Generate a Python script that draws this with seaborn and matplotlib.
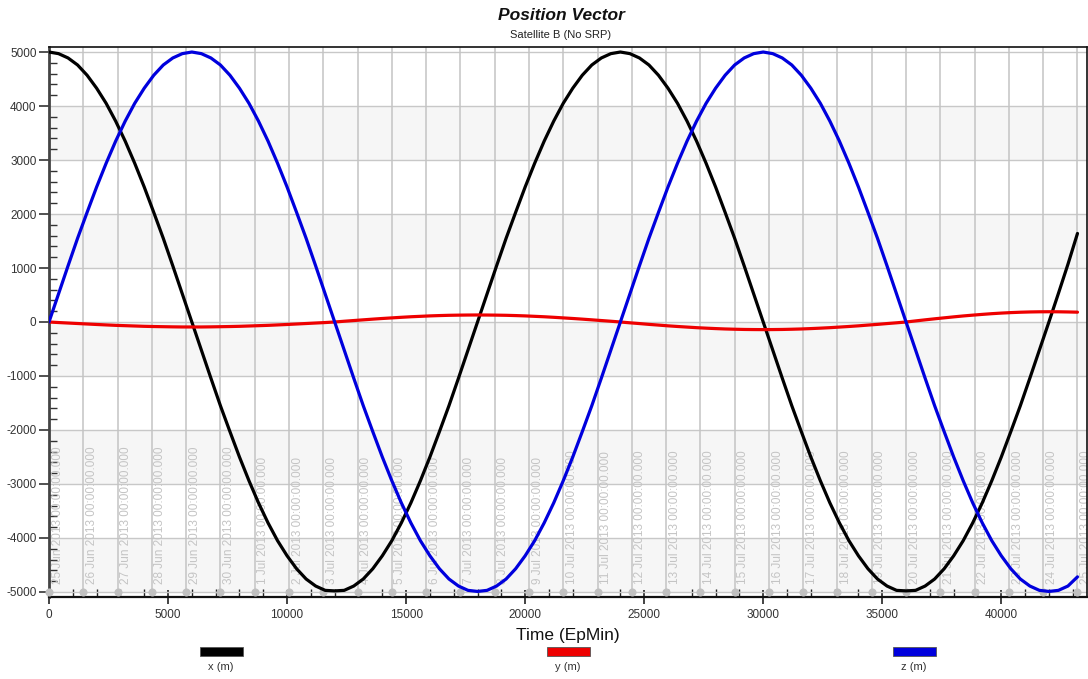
import matplotlib
matplotlib.use("Agg")
import matplotlib.pyplot as plt
from matplotlib.patches import Rectangle
import seaborn as sns
import pandas as pd

# ---------------- data ----------------
time_min = [400 * k for k in range(109)]  # epoch minutes, 0 .. 43200

x_m = [5000, 4970, 4890, 4760, 4570, 4330, 4050, 3720, 3350, 2940, 2500, 2030, 1550, 1040, 520, 0,
       -520, -1040, -1550, -2030, -2500, -2940, -3350, -3720, -4050, -4330, -4570, -4760, -4890, -4970, -4980,
       -4970, -4890, -4760, -4570, -4330, -4050, -3720, -3350, -2940, -2500, -2030, -1550, -1040, -520, 0,
       520, 1040, 1550, 2030, 2500, 2940, 3350, 3720, 4050, 4330, 4570, 4760, 4890, 4970, 5000,
       4970, 4890, 4760, 4570, 4330, 4050, 3720, 3350, 2940, 2500, 2030, 1550, 1040, 520, 0,
       -520, -1040, -1550, -2030, -2500, -2940, -3350, -3720, -4050, -4330, -4570, -4760, -4890, -4970, -4980,
       -4970, -4890, -4760, -4570, -4330, -4050, -3720, -3350, -2940, -2500, -2030, -1550, -1040, -520, 0,
       530, 1070, 1640]

y_m = [0, -10, -19, -28, -37, -46, -54, -62, -68, -74, -80, -84, -87, -90, -92, -92,
       -92, -90, -87, -84, -80, -74, -68, -62, -54, -46, -37, -28, -19, -10, 0,
       14, 27, 40, 53, 65, 76, 87, 97, 105, 113, 119, 124, 127, 129, 130,
       129, 127, 124, 119, 113, 105, 97, 87, 76, 65, 53, 40, 27, 14, 0,
       -15, -29, -44, -57, -71, -83, -94, -105, -114, -122, -129, -134, -138, -140, -141,
       -140, -138, -134, -129, -122, -114, -105, -94, -83, -71, -57, -44, -29, -15, 0,
       20, 40, 59, 77, 95, 112, 127, 141, 154, 165, 174, 181, 186, 189, 190,
       189, 186, 182]

z_m = [0, 520, 1040, 1550, 2030, 2500, 2940, 3350, 3720, 4050, 4330, 4570, 4760, 4890, 4970, 5000,
       4970, 4890, 4760, 4570, 4330, 4050, 3720, 3350, 2940, 2500, 2030, 1550, 1040, 520, 0,
       -520, -1040, -1550, -2030, -2500, -2940, -3350, -3720, -4050, -4330, -4570, -4760, -4890, -4970, -4990,
       -4970, -4890, -4760, -4570, -4330, -4050, -3720, -3350, -2940, -2500, -2030, -1550, -1040, -520, 0,
       520, 1040, 1550, 2030, 2500, 2940, 3350, 3720, 4050, 4330, 4570, 4760, 4890, 4970, 5000,
       4970, 4890, 4760, 4570, 4330, 4050, 3720, 3350, 2940, 2500, 2030, 1550, 1040, 520, 0,
       -520, -1040, -1550, -2030, -2500, -2940, -3350, -3720, -4050, -4330, -4570, -4760, -4890, -4970, -4990,
       -4970, -4890, -4720]

series_names = ["x (m)", "y (m)", "z (m)"]
series_colors = ["#000000", "#ee0000", "#0000dd"]

day_labels = ["25 Jun 2013", "26 Jun 2013", "27 Jun 2013", "28 Jun 2013", "29 Jun 2013",
              "30 Jun 2013", "1 Jul 2013", "2 Jul 2013", "3 Jul 2013", "4 Jul 2013",
              "5 Jul 2013", "6 Jul 2013", "7 Jul 2013", "8 Jul 2013", "9 Jul 2013",
              "10 Jul 2013", "11 Jul 2013", "12 Jul 2013", "13 Jul 2013", "14 Jul 2013",
              "15 Jul 2013", "16 Jul 2013", "17 Jul 2013", "18 Jul 2013", "19 Jul 2013",
              "20 Jul 2013", "21 Jul 2013", "22 Jul 2013", "23 Jul 2013", "24 Jul 2013",
              "25 Jul 2013"]
minutes_per_day = 1440

x_ticks = [0, 5000, 10000, 15000, 20000, 25000, 30000, 35000, 40000]
y_ticks = [5000, 4000, 3000, 2000, 1000, 0, -1000, -2000, -3000, -4000, -5000]

title = "Position Vector"
subtitle = "Satellite B (No SRP)"
x_label = "Time (EpMin)"

# ---------------- styling ----------------
sns.set_style("white")
plt.rcParams["font.family"] = ["Liberation Sans", "DejaVu Sans"]

df = pd.DataFrame({
    "t": time_min * 3,
    "value": x_m + y_m + z_m,
    "series": [series_names[0]] * len(x_m) + [series_names[1]] * len(y_m) + [series_names[2]] * len(z_m),
})

W, H = 1088, 679
fig = plt.figure(figsize=(W / 100, H / 100), dpi=100)
ax = fig.add_axes([49 / W, 1 - 597 / H, (1087 - 49) / W, 550 / H])

ax.set_xlim(0, 43600)
ax.set_ylim(-5093, 5093)

# alternating bands
for lo in [3000, 1000, -1000, -3000, -5000]:
    ax.axhspan(lo, lo + 1000, color="#f6f6f6", zorder=0, lw=0)

# horizontal grid
for yv in y_ticks:
    ax.axhline(yv, color="#c8c8c8", lw=1.0, zorder=1)

# day grid lines, labels, dots
day_pos = [i * minutes_per_day for i in range(len(day_labels))]
for pos, lab in zip(day_pos, day_labels):
    ax.axvline(pos, color="#c4c4c4", lw=1.1, zorder=1)
    ax.text(pos + 110, -4860, lab + " 00:00:00.000", rotation=90, ha="left", va="bottom",
            fontsize=8.5, color="#c4c4c4", zorder=2, clip_on=True)
ax.scatter(day_pos, [-5000] * len(day_pos), s=34, color="#c0c0c0", zorder=3,
           clip_on=False, linewidths=0)

sns.lineplot(data=df, x="t", y="value", hue="series", palette=series_colors,
             hue_order=series_names, linewidth=2.3, legend=False, ax=ax, zorder=4,
             estimator=None, sort=False)

# ticks
ax.set_xticks(x_ticks)
ax.set_xticklabels([str(v) for v in x_ticks])
ax.set_xticks(list(range(0, 43001, 1000)), minor=True)
ax.set_yticks(y_ticks)
ax.set_yticklabels([str(v) for v in y_ticks])
ax.set_yticks(list(range(-5000, 5001, 200)), minor=True)
ax.tick_params(axis="x", which="major", direction="inout", length=10, width=1.2,
               color="#222222", labelsize=8.5, labelcolor="#333333", pad=4, bottom=True)
ax.tick_params(axis="x", which="minor", direction="in", length=6, width=1.0,
               color="#222222", bottom=True)
ax.tick_params(axis="y", which="major", direction="out", length=7, width=1.2,
               color="#333333", labelsize=8.5, labelcolor="#333333", pad=2, left=True)
ax.tick_params(axis="y", which="minor", direction="in", length=6, width=1.0,
               color="#333333", left=True)

for side in ["top", "right", "bottom"]:
    ax.spines[side].set_visible(True)
    ax.spines[side].set_color("#111111")
    ax.spines[side].set_linewidth(1.2)
ax.spines["left"].set_color("#444444")
ax.spines["left"].set_linewidth(2.0)
ax.spines["bottom"].set_linewidth(1.6)

ax.set_xlabel(x_label, fontsize=12.5, color="#111111", labelpad=5)
ax.set_ylabel("")

fig.text(561 / W, 1 - 15 / H, title, ha="center", va="center", fontsize=12.5,
         fontweight="bold", fontstyle="italic", color="#111111")
fig.text(561 / W, 1 - 35 / H, subtitle, ha="center", va="center", fontsize=8,
         color="#222222")

# legend (patches above labels)
legend_centers = [221, 568, 914]
for cx, name, col in zip(legend_centers, series_names, series_colors):
    fig.add_artist(Rectangle(((cx - 21.5) / W, 1 - 656 / H), 43 / W, 9 / H,
                             transform=fig.transFigure, facecolor=col,
                             edgecolor="#555555", lw=0.6))
    fig.text(cx / W, 1 - 667 / H, name, ha="center", va="center", fontsize=8,
             color="#333333")

fig.savefig("out.png", dpi=100)
